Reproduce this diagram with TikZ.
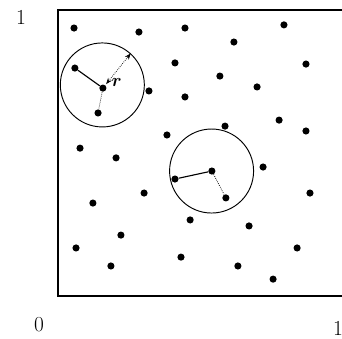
\documentclass[tikz,border=0pt]{standalone}
\usepackage{tikz}
\usepackage{amsmath,bm}
\usetikzlibrary{arrows.meta}

\begin{document}
\begin{tikzpicture}[x=8cm, y=8cm, font=\fontsize{17}{20}\selectfont,
        pt/.style={circle, fill=black, inner sep=0pt, minimum size=0.2cm},
        ring/.style={circle, draw, line width=0.75pt, minimum size=2.35cm, inner sep=0pt},
        nbr/.style={line width=0.9pt},
        far/.style={line width=0.6pt, densely dotted}
    ]
        \useasboundingbox (-0.2028,-0.1503) rectangle (0.993,1.0350);
        \draw[line width=1.2pt] (0,0) rectangle (1,1);

        % axis marks
        \node (top1) at (-0.129,0.975) {1};
        \node (orig) at (-0.066,-0.101) {0};
        \node (right1) at (0.979,-0.112) {1};

        % scattered points
        \foreach \x/\y [count=\i] in {0.056/0.937, 0.283/0.923, 0.444/0.937, 0.790/0.948,
            0.615/0.888, 0.318/0.717, 0.409/0.815, 0.867/0.811, 0.566/0.769,
            0.696/0.731, 0.444/0.696, 0.381/0.563, 0.773/0.615, 0.867/0.577,
            0.584/0.594, 0.077/0.517, 0.203/0.483, 0.717/0.451, 0.301/0.360,
            0.122/0.325, 0.881/0.360, 0.462/0.266, 0.668/0.245, 0.220/0.213,
            0.063/0.168, 0.836/0.168, 0.430/0.136, 0.185/0.105, 0.629/0.105,
            0.752/0.059}
            \node[pt] (p\i) at (\x,\y) {};

        % first neighbourhood
        \node[ring] (ring1) at (0.155,0.738) {};
        \node[pt] (c1) at (0.157,0.727) {};
        \node[pt] (a1) at (0.059,0.797) {};
        \node[pt] (b1) at (0.140,0.640) {};
        \draw[nbr] (c1) -- (a1);
        \draw[far] (c1) -- (b1);
        \draw[far, {Stealth[length=5pt]}-{Stealth[length=5pt]}, shorten <=1pt] (c1) -- (ring1.48);
        \node[font=\fontsize{14}{16}\selectfont] (rlab) at (0.205,0.745) {$\bm{r}$};

        % second neighbourhood
        \node[ring] (ring2) at (0.537,0.437) {};
        \node[pt] (c2) at (0.538,0.437) {};
        \node[pt] (a2) at (0.409,0.409) {};
        \node[pt] (b2) at (0.587,0.343) {};
        \draw[nbr] (c2) -- (a2);
        \draw[far] (c2) -- (b2);
    \end{tikzpicture}
\end{document}
